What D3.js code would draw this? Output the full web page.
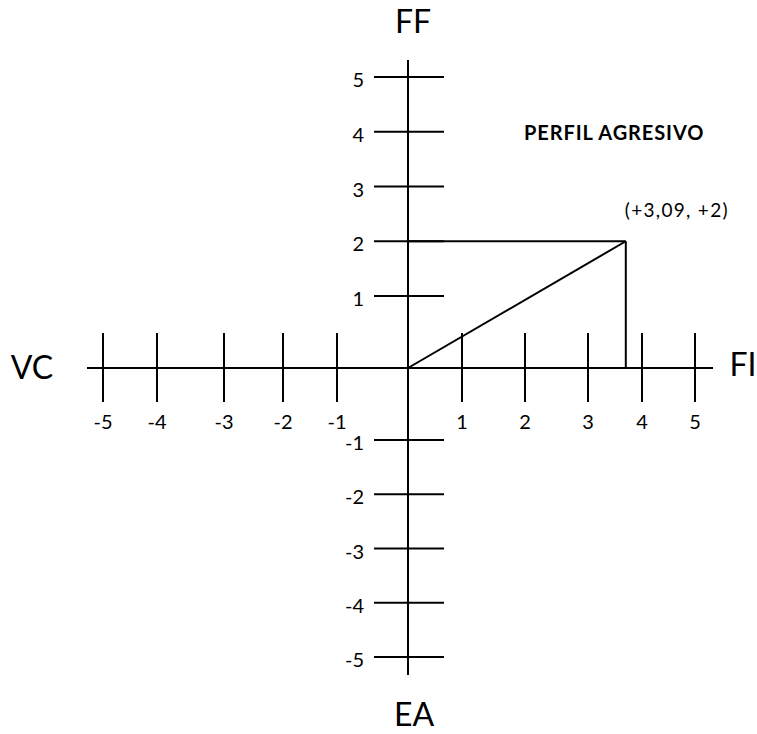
<!DOCTYPE html>
<html><head><meta charset="utf-8">
<script src="https://cdn.jsdelivr.net/npm/d3@7"></script>
<style>body{margin:0;background:#fff}svg{display:block}text{font-family:Lato,"Open Sans",sans-serif;fill:#000}</style>
</head><body><svg id="c" width="757" height="734"></svg>
<script>
// ---- data ----
const xTicks = [-5,-4,-3,-2,-1,1,2,3,4,5];
const yTicks = [5,4,3,2,1,-1,-2,-3,-4,-5];
const axisNames = {top:"FF", bottom:"EA", left:"VC", right:"FI"};
const title = "PERFIL AGRESIVO";
const pointX = [3.7];      // plotted position
const pointY = [2];
const pointLabel = ["(+3,09, +2)"];

// ---- layout ----
const svg = d3.select("#c");
// hand-drawn, slightly uneven tick spacing -> piecewise scales
const x = d3.scaleLinear()
  .domain([-5,-4,-3,-2,-1,0,1,2,3,4,5])
  .range([103,157,224,283,337,408,462,525,588,642,695]);
const y = d3.scaleLinear()
  .domain([-5,-1,0,1,5])
  .range([657,440,368,296,77]);

const g = svg.append("g").attr("stroke","#000").attr("stroke-width",2).attr("fill","none");
// axes lines
g.append("line").attr("x1",x(-5)-16).attr("x2",x(5)+18).attr("y1",y(0)).attr("y2",y(0));
g.append("line").attr("x1",x(0)).attr("x2",x(0)).attr("y1",y(5)-17).attr("y2",y(-5)+18);
// x ticks
g.selectAll(".xt").data(xTicks).join("line")
  .attr("x1",d=>x(d)).attr("x2",d=>x(d)).attr("y1",y(0)-35).attr("y2",y(0)+34);
// y ticks
g.selectAll(".yt").data(yTicks).join("line")
  .attr("x1",x(0)-34).attr("x2",x(0)+36).attr("y1",d=>y(d)).attr("y2",d=>y(d));

// profile lines
pointX.forEach((px,i)=>{
  const py = pointY[i];
  g.append("line").attr("x1",x(0)).attr("y1",y(py)).attr("x2",x(px)).attr("y2",y(py));
  g.append("line").attr("x1",x(px)).attr("y1",y(py)).attr("x2",x(px)).attr("y2",y(0));
  g.append("line").attr("x1",x(0)).attr("y1",y(0)).attr("x2",x(px)).attr("y2",y(py));
  svg.append("text").attr("x",x(px)-1).attr("y",y(py)-24)
    .attr("font-size",19).attr("letter-spacing",1.3).text(pointLabel[i]);
});

// tick labels
svg.selectAll(".xl").data(xTicks).join("text")
  .attr("x",d=>x(d)).attr("y",y(0)+61).attr("text-anchor","middle")
  .attr("font-size",20).text(d=>d);
svg.selectAll(".yl").data(yTicks).join("text")
  .attr("x",x(0)-44).attr("y",d=>y(d)+10).attr("text-anchor","end")
  .attr("font-size",20).text(d=>d);

// title
svg.append("text").attr("x",524).attr("y",140).attr("font-size",20)
  .attr("font-weight","bold").attr("letter-spacing",0.9).text(title);

// axis names
svg.append("text").attr("x",x(0)+5).attr("y",y(5)-44).attr("text-anchor","middle").attr("font-size",32).text(axisNames.top);
svg.append("text").attr("x",x(0)+6).attr("y",y(-5)+69).attr("text-anchor","middle").attr("font-size",32).text(axisNames.bottom);
svg.append("text").attr("x",32).attr("y",y(0)+11).attr("text-anchor","middle").attr("font-size",32).text(axisNames.left);
svg.append("text").attr("x",743).attr("y",y(0)+8).attr("text-anchor","middle").attr("font-size",32).text(axisNames.right);
</script></body></html>
